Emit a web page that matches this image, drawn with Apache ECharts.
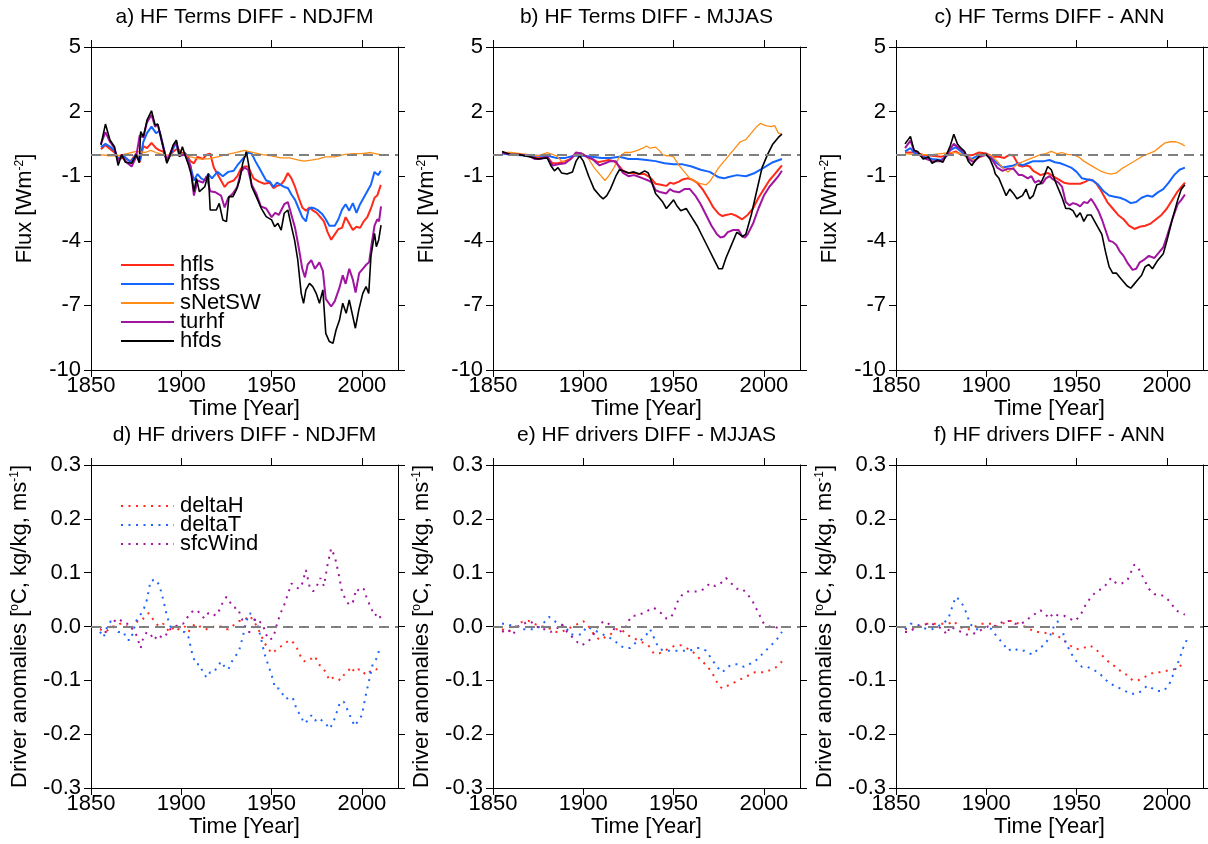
<!DOCTYPE html>
<html><head><meta charset="utf-8">
<script src="https://cdn.jsdelivr.net/npm/echarts@6/dist/echarts.min.js"></script>
<style>html,body{margin:0;padding:0;background:#fff}#c{width:1208px;height:844px}</style>
</head><body><div id="c"></div>
<script>
const FONT = "'Liberation Sans', Arial, Helvetica, sans-serif";
const xTicks = [1850, 1900, 1950, 2000];
const fluxTicks = [-10, -7, -4, -1, 2, 5];
const drvTicks = [-0.3, -0.2, -0.1, 0, 0.1, 0.2, 0.3];
const topTitles = ['a) HF Terms DIFF - NDJFM', 'b) HF Terms DIFF - MJJAS', 'c) HF Terms DIFF - ANN'];
const botTitles = ['d) HF drivers DIFF - NDJFM', 'e) HF drivers DIFF - MJJAS', 'f) HF drivers DIFF - ANN'];
const fluxNames = ['hfls', 'hfss', 'sNetSW', 'turhf', 'hfds'];
const drvNames = ['deltaH', 'deltaT', 'sfcWind'];

// ---- a) NDJFM fluxes ----
const a_hfls = [[1855.5,0.25],[1858,0.45],[1860,0.3],[1863,0.1],[1865,-0.2],[1868,-0.15],[1872,-0.3],[1875,0.05],[1877,-0.35],[1879,0.4],[1881,0.3],[1883.5,0.55],[1886,0.3],[1888,0.2],[1890,0.15],[1892,-0.2],[1895,0.1],[1898,0.3],[1900,0.1],[1903,0],[1905,-0.3],[1907,-0.4],[1909,-0.1],[1912,-0.2],[1914,0],[1916,0.05],[1918,-0.6],[1920,-0.9],[1922,-1.2],[1924,-1.5],[1926,-1.3],[1929,-1.2],[1931,-1.0],[1933,-0.65],[1935,-0.55],[1937,-0.55],[1940,-1.1],[1943,-1.25],[1946,-1.35],[1949,-1.3],[1951,-1.55],[1953,-1.45],[1955,-1.4],[1957,-1.2],[1959,-0.85],[1961,-1.1],[1963,-1.5],[1965,-2.0],[1967,-2.45],[1969,-2.6],[1971,-2.45],[1973,-2.6],[1975,-2.7],[1977,-2.9],[1979,-3.1],[1981,-3.6],[1983,-3.95],[1985,-3.7],[1987,-3.45],[1989,-3.4],[1991,-2.9],[1993,-3.2],[1995,-3.5],[1997,-3.35],[1999,-3.4],[2001,-3.1],[2003,-2.9],[2005,-2.5],[2007,-2.0],[2008.5,-1.9],[2010.5,-1.4]];
const a_hfss = [[1855.5,0.35],[1858,0.5],[1860,0.4],[1863,0.2],[1865,-0.2],[1868,-0.05],[1872,-0.35],[1875,0],[1877,-0.3],[1879,0.6],[1881,1.0],[1883.5,1.3],[1886,1.0],[1888,1.1],[1890,0.4],[1892,-0.3],[1894,0],[1897,0.55],[1899,-0.05],[1902,0.1],[1905,-0.5],[1907,-1.2],[1909,-0.9],[1911,-1.1],[1913,-1.2],[1915,-0.9],[1917,-1.1],[1920,-0.8],[1923,-1.0],[1926,-0.8],[1929,-0.75],[1931,-0.5],[1933,-0.3],[1935,-0.1],[1937,0.1],[1939,0.05],[1941,-0.3],[1943,-0.6],[1945,-0.9],[1947,-1.2],[1949,-1.25],[1951,-1.5],[1953,-1.3],[1955,-1.4],[1957,-1.5],[1959,-1.55],[1961,-1.85],[1963,-2.1],[1965,-2.5],[1967,-2.9],[1969,-3.1],[1970.5,-2.55],[1972,-2.45],[1974,-2.5],[1976,-2.6],[1978,-2.75],[1980,-3.0],[1982,-3.3],[1985,-3.3],[1987,-3.0],[1989,-2.55],[1991,-2.3],[1993,-2.6],[1995,-2.25],[1997,-2.7],[1999,-2.3],[2001,-2.0],[2003,-1.7],[2005,-1.4],[2007,-0.8],[2009,-0.95],[2010.5,-0.75]];
const a_snetsw = [[1855,0],[1860,-0.05],[1865,-0.05],[1870,0.05],[1875,0.15],[1880,0.1],[1883,0.2],[1886,0.1],[1890,0],[1895,-0.05],[1900,0.05],[1905,-0.1],[1910,-0.2],[1915,-0.2],[1920,-0.1],[1925,0],[1930,0.1],[1935,0.2],[1940,0.1],[1945,0],[1950,-0.05],[1955,-0.15],[1960,-0.15],[1965,-0.25],[1968,-0.3],[1972,-0.25],[1976,-0.2],[1980,-0.1],[1985,-0.1],[1990,0],[1995,0.05],[2000,0.05],[2005,0.1],[2010,0]];
const a_turhf = [[1855.5,0.5],[1858,1.05],[1860.5,0.6],[1863,0.3],[1865,-0.3],[1867,0],[1869,-0.3],[1872.5,-0.55],[1875,-0.1],[1877,0.9],[1879,0.8],[1881,1.5],[1883.5,1.85],[1885.5,1.3],[1887,1.4],[1889.5,0.5],[1892,-0.3],[1895.5,0.4],[1897.3,0.6],[1899,-0.05],[1902,0],[1905,-0.5],[1907,-1.9],[1909,-1.2],[1912,-1.3],[1914,-1.0],[1916,-1.7],[1919,-1.75],[1922,-1.9],[1924,-2.45],[1926,-2.0],[1928.6,-1.8],[1931,-1.5],[1933,-0.8],[1935,-0.6],[1937,-0.7],[1939,-1.4],[1941.5,-1.8],[1944,-2.4],[1947,-2.5],[1950,-2.9],[1952,-2.7],[1954,-2.8],[1957,-2.3],[1959,-2.2],[1961,-2.8],[1963,-3.4],[1965,-4.3],[1967,-5.3],[1968.5,-5.7],[1970,-5.1],[1972,-4.9],[1974,-5.3],[1976.5,-5.0],[1978.4,-5.4],[1980,-6.7],[1983,-7.05],[1985,-6.8],[1987.5,-6.2],[1989.4,-5.6],[1991,-6.0],[1993,-5.3],[1995,-5.8],[1996.5,-6.4],[1998.5,-5.5],[2000.5,-5.3],[2002.5,-5.1],[2004,-5.0],[2005.5,-4.1],[2007,-3.3],[2008.5,-3.0],[2009.5,-3.1],[2010.6,-2.4]];
const a_hfds = [[1855.5,0.45],[1858,1.42],[1860.5,0.68],[1863,0.37],[1865,-0.5],[1867,0],[1869,-0.35],[1872.5,-0.4],[1875,0],[1876.7,-0.37],[1877.5,1.07],[1879,0.84],[1881,1.6],[1883.5,2.04],[1885.5,1.38],[1887,1.42],[1889.5,0.53],[1892,-0.4],[1893.5,-0.1],[1895.5,0.45],[1897.3,0.68],[1899,-0.1],[1900.6,0.37],[1902,0],[1904,-0.48],[1905.6,-0.95],[1907,-1.72],[1908.4,-1.1],[1910,-1.72],[1913,-1.49],[1915,-0.87],[1916,-2.57],[1919.4,-2.57],[1921,-2.26],[1923,-3.03],[1925,-3.11],[1926.4,-1.95],[1928.6,-1.95],[1930.5,-1.64],[1932.3,-1.18],[1934,-0.4],[1936,0.14],[1937.5,-0.56],[1939,-1.49],[1941.5,-1.95],[1944.3,-2.49],[1947,-2.88],[1950,-3.03],[1951.7,-3.34],[1953.5,-3.19],[1955.3,-3.5],[1957,-2.72],[1959,-2.57],[1961,-3.34],[1962.7,-3.96],[1964.5,-4.89],[1966.4,-6.44],[1967.7,-6.9],[1969,-6.28],[1971,-5.98],[1972.8,-6.13],[1974.7,-6.44],[1976.5,-6.9],[1978.4,-6.28],[1980,-8.3],[1982,-8.68],[1984,-8.76],[1985.7,-8.14],[1987.6,-7.68],[1989.4,-6.9],[1991.3,-7.37],[1993,-6.75],[1995,-7.52],[1996.4,-8.06],[1998.3,-7.21],[2000.5,-6.44],[2002.3,-6.13],[2003.8,-6.44],[2005,-4.74],[2007,-3.65],[2008,-4.27],[2009.3,-3.96],[2010.6,-3.27]];

// ---- b) MJJAS fluxes ----
const b_hfls = [[1855,0.1],[1860,0],[1865,0],[1870,-0.05],[1875,-0.15],[1880,-0.1],[1883,-0.4],[1886,-0.4],[1890,-0.3],[1893,-0.2],[1896,0.05],[1899,0.05],[1902,-0.1],[1905,-0.2],[1908,-0.35],[1911,-0.3],[1914,-0.25],[1917,-0.3],[1920,-0.55],[1922,-0.75],[1925,-0.85],[1928,-0.85],[1931,-0.9],[1934,-0.9],[1937,-1.05],[1940,-1.35],[1943,-1.4],[1946,-1.45],[1948,-1.3],[1950,-1.35],[1953,-1.25],[1955,-1.15],[1958,-1.1],[1960,-1.15],[1963,-1.3],[1966,-1.6],[1969,-2.0],[1972,-2.45],[1975,-2.75],[1977,-2.85],[1979,-2.8],[1982,-2.75],[1985,-2.85],[1988,-3.0],[1991,-2.8],[1994,-2.5],[1997,-2.0],[2000,-1.6],[2003,-1.2],[2006,-0.9],[2008,-0.7],[2010,-0.5]];
const b_hfss = [[1855,0.05],[1860,0],[1870,-0.05],[1880,-0.05],[1885,-0.15],[1890,-0.15],[1895,-0.05],[1900,-0.05],[1905,-0.1],[1910,-0.15],[1915,-0.15],[1920,-0.1],[1925,-0.2],[1930,-0.2],[1935,-0.25],[1940,-0.3],[1945,-0.4],[1950,-0.45],[1955,-0.45],[1960,-0.55],[1965,-0.7],[1970,-0.8],[1975,-1.05],[1978,-1.1],[1980,-1.05],[1985,-0.95],[1990,-1.0],[1995,-0.85],[2000,-0.6],[2005,-0.35],[2010,-0.2]];
const b_snetsw = [[1855,0.1],[1860,0.1],[1865,0.05],[1870,0],[1875,-0.05],[1880,0.1],[1885,-0.05],[1888,-0.3],[1890,-0.35],[1893,-0.2],[1896,0.05],[1900,0.05],[1903,-0.2],[1906,-0.6],[1909,-0.9],[1912,-1.2],[1914,-1.0],[1917,-0.6],[1920,-0.1],[1923,0.1],[1926,0.1],[1930,0.2],[1933,0.3],[1935,0.4],[1937,0.3],[1940,0.35],[1942,0.2],[1944,0.0],[1946,-0.05],[1948,-0.05],[1950,-0.1],[1953,-0.5],[1956,-0.8],[1959,-1.1],[1962,-1.25],[1965,-1.35],[1968,-1.4],[1970,-1.25],[1972,-1.0],[1975,-0.6],[1978,-0.3],[1981,0],[1984,0.3],[1987,0.6],[1990,0.7],[1993,1.0],[1996,1.3],[1998,1.45],[2001,1.35],[2004,1.3],[2006,1.35],[2008,1.0],[2010,0.95]];
const b_turhf = [[1855,0.1],[1860,0],[1865,0],[1870,-0.05],[1873,-0.2],[1876,-0.2],[1880,-0.1],[1883,-0.5],[1886,-0.45],[1890,-0.4],[1893,-0.2],[1896,0.1],[1899,0.05],[1902,-0.1],[1905,-0.2],[1909,-0.5],[1912,-0.4],[1915,-0.3],[1918,-0.3],[1920,-0.6],[1922,-0.85],[1925,-1.0],[1928,-0.95],[1930,-1.0],[1933,-1.1],[1936,-1.2],[1938,-1.3],[1940,-1.65],[1943,-1.75],[1946,-1.8],[1948,-1.6],[1950,-1.7],[1953,-1.75],[1956,-1.6],[1959,-1.6],[1962,-1.9],[1965,-2.3],[1968,-2.8],[1971,-3.3],[1974,-3.7],[1976,-3.85],[1978,-3.8],[1980,-3.6],[1983,-3.5],[1986,-3.5],[1988,-3.8],[1989.5,-3.85],[1991,-3.7],[1994,-3.2],[1997,-2.5],[2000,-1.9],[2003,-1.5],[2006,-1.2],[2008,-1.0],[2010,-0.75]];
const b_hfds = [[1855,0.15],[1860,0],[1865,0],[1870,-0.1],[1875,-0.2],[1880,-0.15],[1882,-0.5],[1884,-0.75],[1886,-0.6],[1888,-0.85],[1891,-0.9],[1894,-0.8],[1896,-0.3],[1898,-0.05],[1900,-0.3],[1903,-1.0],[1906,-1.6],[1909,-1.9],[1911,-2.05],[1913,-1.9],[1915,-1.6],[1918,-1.0],[1920,-0.7],[1922,-0.75],[1925,-0.85],[1928,-0.8],[1931,-0.9],[1934,-0.75],[1936,-0.85],[1938,-1.3],[1940,-1.8],[1942,-2.0],[1944,-2.2],[1946,-2.5],[1948,-2.3],[1950,-2.1],[1952,-2.4],[1954,-2.6],[1957,-2.5],[1960,-2.9],[1963,-3.3],[1966,-3.8],[1969,-4.3],[1972,-4.8],[1975,-5.3],[1977,-5.3],[1979,-4.8],[1982,-4.2],[1985,-3.6],[1988,-3.8],[1990,-3.7],[1993,-2.8],[1996,-1.7],[1999,-0.6],[2002,0],[2005,0.5],[2008,0.8],[2010,0.95]];

// ---- c) ANN fluxes ----
const c_hfls = [[1855,0.1],[1860,0.1],[1865,0],[1870,-0.05],[1875,-0.1],[1880,0.05],[1883,0.15],[1886,0],[1890,-0.05],[1893,0],[1896,0.1],[1900,0.05],[1904,-0.1],[1907,-0.1],[1910,-0.15],[1913,0],[1915,-0.05],[1918,-0.5],[1920,-0.55],[1922,-0.5],[1924,-0.55],[1926,-0.75],[1928,-0.85],[1930,-0.95],[1932,-0.9],[1934,-0.85],[1936,-0.95],[1938,-1.05],[1940,-1.15],[1943,-1.3],[1946,-1.35],[1949,-1.35],[1952,-1.35],[1955,-1.25],[1957,-1.15],[1959,-1.2],[1961,-1.35],[1963,-1.6],[1965,-1.9],[1967,-2.2],[1970,-2.5],[1973,-2.8],[1976,-3.0],[1979,-3.3],[1982,-3.45],[1985,-3.35],[1988,-3.3],[1991,-3.2],[1994,-3.0],[1997,-2.8],[2000,-2.5],[2003,-2.1],[2006,-1.7],[2008,-1.5],[2010,-1.3]];
const c_hfss = [[1855,0.15],[1858,0.3],[1860,0.1],[1865,-0.1],[1870,-0.2],[1875,-0.25],[1878,-0.05],[1880,0.2],[1883,0.35],[1886,0.15],[1889,-0.1],[1892,-0.2],[1895,-0.05],[1900,0],[1903,-0.15],[1906,-0.4],[1909,-0.6],[1912,-0.55],[1915,-0.5],[1918,-0.4],[1920,-0.5],[1923,-0.4],[1926,-0.3],[1929,-0.3],[1932,-0.3],[1935,-0.25],[1938,-0.35],[1941,-0.4],[1944,-0.5],[1947,-0.6],[1950,-0.8],[1953,-1.1],[1956,-1.15],[1959,-1.2],[1962,-1.4],[1965,-1.7],[1968,-1.9],[1971,-1.95],[1974,-2.0],[1977,-2.1],[1980,-2.25],[1983,-2.2],[1986,-2.0],[1989,-1.9],[1992,-1.95],[1995,-1.75],[1998,-1.6],[2001,-1.3],[2004,-0.95],[2007,-0.7],[2010,-0.6]];
const c_snetsw = [[1855,0.05],[1860,0],[1865,0],[1870,0],[1875,0.05],[1880,0.1],[1883,0.1],[1886,0.05],[1890,-0.15],[1893,-0.25],[1896,-0.15],[1900,0],[1903,-0.05],[1906,-0.3],[1909,-0.6],[1912,-0.8],[1915,-0.6],[1918,-0.4],[1921,-0.3],[1924,-0.2],[1927,-0.1],[1930,0],[1933,0.05],[1936,0.15],[1939,0.05],[1942,0.1],[1945,0],[1948,0],[1951,-0.1],[1954,-0.3],[1957,-0.45],[1960,-0.6],[1963,-0.75],[1966,-0.85],[1969,-0.9],[1972,-0.85],[1975,-0.65],[1978,-0.5],[1981,-0.35],[1984,-0.2],[1987,-0.05],[1990,0.05],[1993,0.15],[1996,0.35],[1999,0.55],[2002,0.6],[2005,0.6],[2008,0.5],[2010,0.4]];
const c_turhf = [[1855,0.3],[1858,0.65],[1860,0.2],[1862,0.1],[1865,-0.15],[1870,-0.3],[1875,-0.3],[1878,-0.05],[1880,0.25],[1882,0.5],[1885,0.3],[1888,0.1],[1890,-0.2],[1893,-0.35],[1896,-0.1],[1900,0],[1903,-0.2],[1906,-0.6],[1909,-0.75],[1912,-0.65],[1915,-0.65],[1918,-0.95],[1920,-0.95],[1923,-1.1],[1925,-1.0],[1927,-1.3],[1929,-1.2],[1931,-1.35],[1933,-1.1],[1935,-1.0],[1937,-1.15],[1940,-1.3],[1942,-1.5],[1944,-2.2],[1946,-2.35],[1948,-2.25],[1950,-2.3],[1952,-2.4],[1954,-2.2],[1956,-2.25],[1958,-2.05],[1960,-2.3],[1962,-2.6],[1964,-3.0],[1966,-3.5],[1968,-4.0],[1970,-4.05],[1972,-4.2],[1974,-4.5],[1976,-4.7],[1978,-5.0],[1981,-5.35],[1983,-5.3],[1985,-5.0],[1987,-4.9],[1990,-4.7],[1993,-4.8],[1996,-4.5],[1998,-4.3],[2000,-3.8],[2003,-3.0],[2006,-2.3],[2008,-2.1],[2010,-1.85]];
const c_hfds = [[1855,0.5],[1858,0.85],[1860,0.2],[1862,0.15],[1865,-0.2],[1868,-0.1],[1870,-0.4],[1873,-0.25],[1876,-0.35],[1878,0],[1880,0.4],[1882,0.95],[1884,0.5],[1886,0.3],[1888,0.15],[1890,-0.3],[1892,-0.5],[1894,-0.25],[1897,0],[1900,0],[1902,-0.2],[1904,-0.6],[1905,-0.9],[1907,-1.1],[1909,-1.5],[1911,-1.9],[1913,-1.6],[1915,-1.8],[1917,-2.05],[1920,-1.9],[1922,-1.6],[1924,-2.05],[1926,-1.9],[1928,-1.4],[1930,-1.35],[1932,-1.0],[1934,-0.55],[1936,-0.7],[1938,-1.2],[1940,-1.6],[1942,-2.0],[1944,-2.5],[1946,-2.5],[1948,-2.6],[1950,-2.9],[1952,-2.7],[1954,-3.1],[1956,-2.8],[1958,-2.8],[1960,-3.1],[1962,-3.4],[1964,-3.7],[1966,-4.5],[1968,-5.2],[1970,-5.5],[1972,-5.5],[1974,-5.7],[1976,-5.9],[1978,-6.1],[1980,-6.2],[1982,-6.0],[1984,-5.8],[1986,-5.6],[1988,-5.2],[1990,-5.1],[1992,-5.3],[1995,-4.9],[1998,-4.6],[2000,-4.0],[2003,-3.0],[2006,-2.1],[2008,-1.6],[2010,-1.4]];

// ---- d) NDJFM drivers ----
const d_deltaH = [[1855,-0.005],[1858,-0.01],[1860,-0.005],[1862,0],[1864,0],[1866,0.005],[1868,0.005],[1870,0],[1872,-0.005],[1874,0.005],[1876,0.01],[1878,0.01],[1880,0.02],[1882,0.025],[1884,0.015],[1886,0.005],[1888,0],[1890,0.005],[1892,-0.005],[1894,-0.01],[1896,0],[1898,-0.005],[1900,-0.005],[1902,0],[1904,-0.01],[1906,0],[1908,0.005],[1910,0],[1912,0],[1914,-0.005],[1916,-0.005],[1918,0],[1920,0],[1922,0],[1924,-0.005],[1926,-0.005],[1928,0],[1930,0.005],[1932,0.01],[1934,0.01],[1936,0.015],[1938,0.02],[1940,0.01],[1942,0],[1944,-0.015],[1946,-0.03],[1948,-0.04],[1950,-0.05],[1952,-0.045],[1954,-0.04],[1956,-0.035],[1958,-0.03],[1960,-0.025],[1962,-0.03],[1964,-0.04],[1966,-0.055],[1968,-0.065],[1970,-0.06],[1972,-0.06],[1974,-0.055],[1976,-0.07],[1978,-0.075],[1980,-0.085],[1982,-0.1],[1984,-0.095],[1986,-0.095],[1988,-0.1],[1990,-0.09],[1992,-0.085],[1994,-0.075],[1996,-0.085],[1998,-0.08],[2000,-0.08],[2002,-0.09],[2004,-0.085],[2006,-0.08],[2008,-0.08],[2010,-0.07]];
const d_deltaT = [[1855,-0.01],[1857,-0.02],[1859,0],[1861,0.01],[1863,-0.005],[1865,-0.01],[1868,-0.01],[1870,-0.025],[1872,-0.025],[1875,0.01],[1877,0.02],[1879,0.03],[1881,0.05],[1883,0.085],[1886,0.087],[1888,0.075],[1890,0.05],[1892,0.02],[1894,0],[1896,-0.005],[1898,0.005],[1900,-0.01],[1902,-0.01],[1904,-0.02],[1906,-0.05],[1908,-0.07],[1910,-0.07],[1912,-0.085],[1914,-0.095],[1916,-0.085],[1918,-0.085],[1920,-0.075],[1922,-0.065],[1924,-0.075],[1926,-0.08],[1928,-0.065],[1930,-0.055],[1932,-0.045],[1934,-0.02],[1936,0.01],[1938,0.025],[1940,0.015],[1942,0.005],[1944,-0.02],[1946,-0.05],[1948,-0.07],[1950,-0.09],[1952,-0.115],[1954,-0.115],[1956,-0.125],[1958,-0.135],[1960,-0.13],[1962,-0.135],[1964,-0.155],[1966,-0.165],[1968,-0.18],[1970,-0.175],[1972,-0.165],[1974,-0.175],[1976,-0.17],[1978,-0.175],[1980,-0.18],[1982,-0.19],[1984,-0.18],[1986,-0.16],[1988,-0.14],[1990,-0.14],[1992,-0.155],[1994,-0.17],[1996,-0.185],[1998,-0.175],[2000,-0.165],[2002,-0.13],[2004,-0.1],[2006,-0.07],[2008,-0.06],[2010,-0.04]];
const d_sfcWind = [[1855,0],[1857,-0.01],[1859,-0.01],[1861,0],[1863,0.01],[1865,0.015],[1867,0.01],[1869,0.005],[1871,0.005],[1873,-0.005],[1875,-0.015],[1876.5,-0.03],[1877.5,-0.04],[1879,-0.02],[1881,-0.01],[1883,-0.015],[1885,-0.025],[1887,-0.015],[1889,-0.02],[1891,-0.02],[1893,-0.005],[1895,-0.005],[1897,0],[1899,0.005],[1901,0.005],[1903,0.015],[1905,0.025],[1907,0.03],[1909,0.03],[1911,0.02],[1913,0.015],[1915,0.025],[1917,0.025],[1919,0.02],[1921,0.03],[1923,0.045],[1925,0.055],[1927,0.045],[1929,0.035],[1931,0.035],[1933,0.02],[1935,0],[1937,-0.01],[1939,-0.01],[1941,0.015],[1943,0.01],[1945,0.005],[1947,-0.015],[1949,-0.025],[1951,-0.02],[1953,0.005],[1955,0.025],[1957,0.04],[1959,0.06],[1961,0.08],[1963,0.075],[1965,0.07],[1967,0.08],[1969,0.105],[1971,0.075],[1973,0.065],[1975,0.075],[1977,0.09],[1979,0.075],[1981,0.115],[1983,0.145],[1985,0.13],[1987,0.1],[1989,0.065],[1991,0.05],[1993,0.04],[1995,0.045],[1997,0.07],[1999,0.065],[2001,0.07],[2003,0.05],[2005,0.035],[2007,0.02],[2009,0.025],[2010.5,0.015]];

// ---- e) MJJAS drivers ----
const e_deltaH = [[1855,-0.005],[1858,-0.01],[1861,-0.005],[1864,0.005],[1867,0.01],[1870,0.01],[1873,0.005],[1876,0],[1879,0],[1882,-0.005],[1885,-0.01],[1888,-0.01],[1891,-0.005],[1894,0],[1897,0.005],[1900,0.01],[1903,0],[1906,-0.015],[1909,-0.025],[1912,-0.02],[1915,-0.015],[1918,-0.005],[1921,-0.005],[1924,-0.015],[1927,-0.02],[1930,-0.025],[1933,-0.03],[1936,-0.035],[1939,-0.05],[1942,-0.05],[1945,-0.045],[1948,-0.04],[1951,-0.035],[1954,-0.035],[1957,-0.04],[1960,-0.045],[1963,-0.055],[1966,-0.065],[1969,-0.075],[1972,-0.09],[1975,-0.11],[1977,-0.115],[1980,-0.11],[1983,-0.105],[1986,-0.1],[1989,-0.095],[1992,-0.09],[1995,-0.085],[1998,-0.085],[2001,-0.085],[2004,-0.08],[2007,-0.075],[2010,-0.065]];
const e_deltaT = [[1855,0.005],[1858,0.005],[1861,0],[1864,0],[1867,-0.005],[1870,-0.005],[1873,-0.005],[1876,0],[1879,0.01],[1881,0.018],[1884,0.01],[1887,0.005],[1890,0],[1893,-0.015],[1896,-0.015],[1899,-0.015],[1902,0],[1905,-0.005],[1908,-0.01],[1911,-0.015],[1914,-0.02],[1917,-0.025],[1920,-0.035],[1923,-0.04],[1926,-0.04],[1929,-0.03],[1932,-0.025],[1935,-0.015],[1937,-0.005],[1939,-0.02],[1941,-0.035],[1944,-0.045],[1947,-0.045],[1950,-0.045],[1953,-0.045],[1956,-0.045],[1959,-0.045],[1962,-0.04],[1965,-0.04],[1968,-0.045],[1971,-0.06],[1974,-0.075],[1977,-0.085],[1980,-0.075],[1983,-0.07],[1986,-0.07],[1989,-0.075],[1992,-0.07],[1995,-0.065],[1998,-0.055],[2001,-0.045],[2004,-0.035],[2007,-0.025],[2010,-0.01]];
const e_sfcWind = [[1855,-0.01],[1858,-0.005],[1861,-0.015],[1864,0],[1867,0.005],[1870,0.01],[1873,0.005],[1876,-0.005],[1879,-0.005],[1882,-0.01],[1885,-0.005],[1888,0.005],[1891,-0.01],[1894,-0.02],[1897,-0.03],[1899,-0.035],[1902,-0.03],[1905,-0.02],[1907,-0.005],[1909,0.005],[1912,0.01],[1914,0.005],[1917,-0.005],[1920,-0.01],[1923,-0.005],[1925,0.01],[1927,0.02],[1930,0.02],[1933,0.025],[1936,0.03],[1939,0.035],[1941,0.03],[1943,0.025],[1946,0.015],[1948,0.015],[1950,0.025],[1952,0.045],[1955,0.06],[1958,0.065],[1961,0.065],[1964,0.065],[1967,0.07],[1970,0.08],[1973,0.075],[1976,0.08],[1979,0.09],[1982,0.08],[1985,0.07],[1988,0.07],[1991,0.06],[1994,0.045],[1997,0.025],[2000,0.005],[2003,0],[2006,0],[2009,-0.005]];

// ---- f) ANN drivers ----
const f_deltaH = [[1855,-0.005],[1858,-0.005],[1861,0],[1864,0],[1867,0.005],[1870,0.005],[1873,0.005],[1876,0.005],[1879,0.005],[1882,0.01],[1885,0],[1888,-0.005],[1891,-0.005],[1894,0],[1897,0.005],[1900,0.005],[1903,0.005],[1906,0],[1909,0.005],[1912,0.01],[1915,0.01],[1918,0.005],[1921,0],[1924,-0.005],[1927,-0.01],[1930,-0.01],[1933,-0.012],[1936,-0.012],[1939,-0.015],[1942,-0.025],[1945,-0.03],[1948,-0.04],[1951,-0.042],[1954,-0.04],[1957,-0.035],[1960,-0.04],[1963,-0.05],[1966,-0.06],[1969,-0.07],[1972,-0.075],[1975,-0.085],[1978,-0.09],[1981,-0.1],[1984,-0.1],[1987,-0.095],[1990,-0.09],[1993,-0.085],[1996,-0.085],[1999,-0.082],[2002,-0.082],[2005,-0.078],[2008,-0.072],[2010,-0.068]];
const f_deltaT = [[1855,-0.005],[1858,0.005],[1861,0.005],[1864,0],[1867,-0.005],[1870,-0.005],[1873,0],[1876,0.005],[1879,0.015],[1881,0.035],[1883,0.055],[1885,0.05],[1887,0.04],[1889,0.025],[1891,0.005],[1894,-0.005],[1897,-0.005],[1900,0],[1903,-0.005],[1906,-0.02],[1909,-0.03],[1912,-0.045],[1915,-0.04],[1918,-0.045],[1921,-0.045],[1924,-0.05],[1926,-0.052],[1929,-0.04],[1932,-0.035],[1935,-0.02],[1938,0.005],[1940,0.01],[1942,-0.005],[1944,-0.03],[1947,-0.05],[1950,-0.065],[1953,-0.075],[1956,-0.075],[1959,-0.08],[1962,-0.085],[1965,-0.095],[1968,-0.105],[1971,-0.11],[1974,-0.115],[1977,-0.12],[1980,-0.125],[1983,-0.125],[1986,-0.12],[1989,-0.11],[1992,-0.115],[1995,-0.12],[1998,-0.12],[2001,-0.11],[2004,-0.085],[2007,-0.06],[2009,-0.04],[2011,-0.025]];
const f_sfcWind = [[1855,-0.01],[1858,-0.01],[1861,0],[1864,0],[1867,0.005],[1870,0.005],[1873,0],[1876,-0.005],[1878,-0.015],[1880,0],[1883,-0.005],[1886,-0.01],[1889,-0.015],[1892,-0.015],[1895,-0.01],[1898,-0.005],[1901,0],[1904,0],[1907,0.005],[1910,0.01],[1913,0.01],[1916,0.005],[1919,0.005],[1922,0.01],[1925,0.02],[1928,0.025],[1930,0.03],[1932,0.025],[1935,0.015],[1937,0.025],[1940,0.02],[1943,0.02],[1946,0.015],[1949,0.01],[1952,0.02],[1955,0.04],[1958,0.055],[1961,0.065],[1964,0.07],[1967,0.08],[1969,0.09],[1972,0.08],[1975,0.08],[1978,0.085],[1980,0.1],[1982,0.115],[1984,0.11],[1987,0.09],[1990,0.07],[1993,0.06],[1996,0.06],[1999,0.055],[2002,0.045],[2005,0.03],[2008,0.025],[2010,0.022]];

const fluxPanels = [
  [a_hfls, a_hfss, a_snetsw, a_turhf, a_hfds],
  [b_hfls, b_hfss, b_snetsw, b_turhf, b_hfds],
  [c_hfls, c_hfss, c_snetsw, c_turhf, c_hfds]
];
const drvPanels = [
  [d_deltaH, d_deltaT, d_sfcWind],
  [e_deltaH, e_deltaT, e_sfcWind],
  [f_deltaH, f_deltaT, f_sfcWind]
];

const fluxStyle = {
  hfls: { color: '#ff2a1a', width: 2 },
  hfss: { color: '#1464ff', width: 2 },
  sNetSW: { color: '#ff8c14', width: 1.3 },
  turhf: { color: '#a0149f', width: 2 },
  hfds: { color: '#000000', width: 1.6 }
};
const drvStyle = {
  deltaH: { color: '#ff2a1a' },
  deltaT: { color: '#1e64ff' },
  sfcWind: { color: '#a0149f' }
};

const lefts = [91, 493, 896];
const tops = [47, 465];
const W = 307, H = 323;

const grids = [], xAxes = [], yAxes = [], series = [], graphics = [];
const labelFont = { fontSize: 22, color: '#000', fontFamily: FONT };
const supRich = { sup: { fontSize: 12, verticalAlign: 'top', fontFamily: FONT, color: '#000', padding: [0, 0, 8, 0] } };

for (let r = 0; r < 2; r++) {
  for (let c = 0; c < 3; c++) {
    const p = r * 3 + c;
    grids.push({ left: lefts[c], top: tops[r], width: W, height: H, containLabel: false });
    const common = {
      type: 'value', gridIndex: p, min: 1850, max: 2020,
      axisLine: { show: true, onZero: false, lineStyle: { color: '#000', width: 1 } },
      axisTick: { show: true, inside: false, length: 7, customValues: xTicks, lineStyle: { color: '#000', width: 1 } },
      splitLine: { show: false }
    };
    xAxes.push(Object.assign({}, common, {
      position: 'bottom',
      axisLabel: Object.assign({ customValues: xTicks, margin: 5, formatter: v => String(Math.round(v)) }, labelFont),
      name: 'Time [Year]', nameLocation: 'middle', nameGap: 25,
      nameTextStyle: labelFont
    }));
    xAxes.push(Object.assign({}, common, { position: 'top', axisLabel: { show: false } }));

    const yt = r === 0 ? fluxTicks : drvTicks;
    const yc = {
      type: 'value', gridIndex: p, min: yt[0], max: yt[yt.length - 1],
      axisLine: { show: true, onZero: false, lineStyle: { color: '#000', width: 1 } },
      axisTick: { show: true, inside: false, length: 7, customValues: yt, lineStyle: { color: '#000', width: 1 } },
      splitLine: { show: false }
    };
    yAxes.push(Object.assign({}, yc, {
      position: 'left',
      axisLabel: Object.assign({ customValues: yt, margin: 10,
        formatter: r === 0 ? (v => String(Math.round(v))) : (v => (Math.abs(v) < 1e-9 ? 0 : v).toFixed(1)) }, labelFont),
      name: r === 0 ? 'Flux [Wm{sup|-2}]' : 'Driver anomalies [{sup|o}C, kg/kg, ms{sup|-1}]',
      nameLocation: 'middle', nameGap: r === 0 ? 55 : 60,
      nameTextStyle: Object.assign({ rich: supRich }, labelFont)
    }));
    yAxes.push(Object.assign({}, yc, { position: 'right', axisLabel: { show: false } }));

    graphics.push({
      type: 'text', x: lefts[c] + W / 2, y: tops[r] - 30,
      style: { text: (r === 0 ? topTitles : botTitles)[c], fontSize: 21, fontFamily: FONT, fill: '#000', align: 'center', verticalAlign: 'middle' }
    });

    const names = r === 0 ? fluxNames : drvNames;
    const datas = r === 0 ? fluxPanels[c] : drvPanels[c];
    names.forEach((nm, k) => {
      const st = r === 0 ? fluxStyle[nm] : drvStyle[nm];
      const s = {
        type: 'line', name: nm, xAxisIndex: 2 * p, yAxisIndex: 2 * p,
        data: datas[k], symbol: 'none', showSymbol: false, smooth: false, clip: true,
        color: st.color,
        lineStyle: r === 0 ? { color: st.color, width: st.width } :
          { color: st.color, width: 2, type: [2, 5.5], cap: 'butt' },
        emphasis: { disabled: true }
      };
      if (k === 0) {
        s.markLine = {
          silent: true, symbol: 'none', label: { show: false }, animation: false,
          lineStyle: { color: '#808080', type: [10, 6], width: 2 },
          data: [{ yAxis: 0 }]
        };
      }
      series.push(s);
    });
  }
}

const legendCommon = {
  orient: 'vertical', left: 120, padding: 0, itemWidth: 53, itemHeight: 14, itemGap: -3,
  selectedMode: false,
  itemStyle: { color: 'rgba(0,0,0,0)', borderWidth: 0, opacity: 0 },
  textStyle: { fontSize: 22, color: '#000', fontFamily: FONT, padding: [0, 0, 0, 1] }
};

const chart = echarts.init(document.getElementById('c'), null, { renderer: 'canvas' });
chart.setOption({
  animation: false,
  backgroundColor: '#fff',
  textStyle: { fontFamily: FONT },
  grid: grids, xAxis: xAxes, yAxis: yAxes, series: series,
  graphic: graphics,
  legend: [
    Object.assign({ data: fluxNames, top: 254 }, legendCommon),
    Object.assign({ data: drvNames, top: 495 }, legendCommon)
  ]
});
</script></body></html>
